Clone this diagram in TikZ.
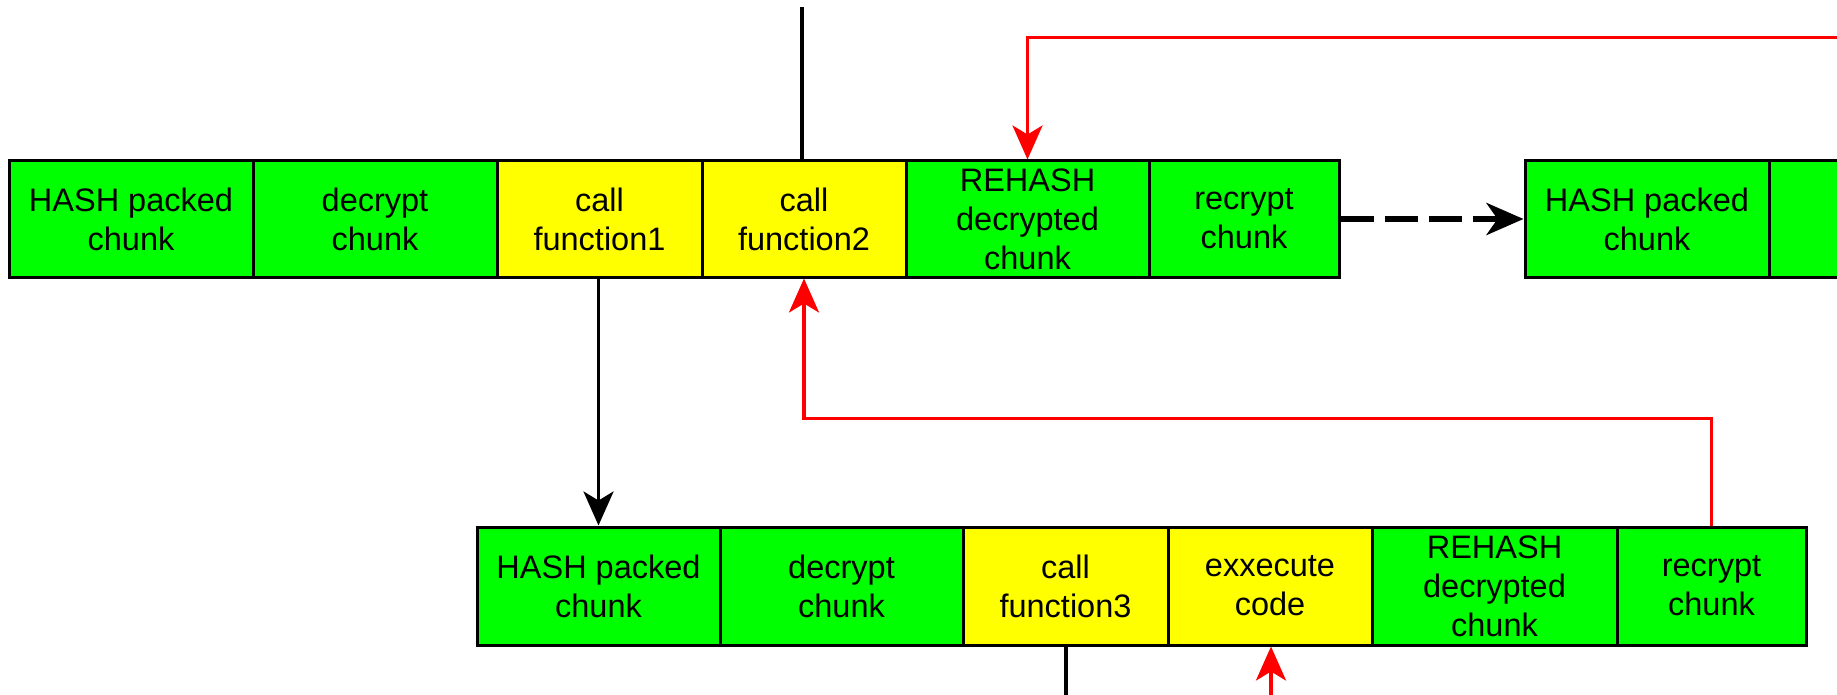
\documentclass[tikz,border=0pt]{standalone}
\usepackage{fontspec}
\setmainfont{Liberation Sans}
\usetikzlibrary{arrows.meta}
\definecolor{cgreen}{RGB}{0,255,0}
\definecolor{cyellow}{RGB}{255,255,0}
\definecolor{cred}{RGB}{255,0,0}
\tikzset{
  cell/.style={draw=black, line width=3pt, rectangle, inner sep=0pt, align=center,
    font=\fontsize{32.5}{39}\selectfont},
  gcell/.style={cell, fill=cgreen},
  ycell/.style={cell, fill=cyellow},
  topcell/.style={minimum height=116pt},
  botcell/.style={minimum height=118pt},
  blkline/.style={draw=black, line width=3.5pt},
  redline/.style={draw=cred, line width=3.5pt},
  tip/.style={-{Stealth[length=34pt, width=30pt, inset=9pt]}},
  dasharrow/.style={draw=black, line width=6pt, dash pattern=on 33pt off 11pt,
    -{Stealth[length=37pt, width=32pt, inset=11pt]}}
}
\begin{document}
\begin{tikzpicture}[x=1pt, y=-1pt]
\clip (0,0) rectangle (1837,695);
\fill[white] (0,0) rectangle (1837,695);
% top row
\node[gcell, topcell, minimum width=244pt] (a1) at (131,219) {HASH packed\\chunk};
\node[gcell, topcell, minimum width=244pt] (a2) at (375,219) {decrypt\\chunk};
\node[ycell, topcell, minimum width=205pt] (a3) at (599.5,219) {call\\function1};
\node[ycell, topcell, minimum width=204pt] (a4) at (804,219) {call\\function2};
\node[gcell, topcell, minimum width=243pt] (a5) at (1027.5,219) {REHASH\\decrypted\\chunk};
\node[gcell, topcell, minimum width=190pt] (a6) at (1244,219) {recrypt\\chunk};
\node[gcell, topcell, minimum width=244pt] (c1) at (1647,219) {HASH packed\\chunk};
\node[gcell, topcell, minimum width=244pt] (c2) at (1891,219) {};
% bottom row
\node[gcell, botcell, minimum width=243pt] (b1) at (598.5,586) {HASH packed\\chunk};
\node[gcell, botcell, minimum width=243pt] (b2) at (841.5,586) {decrypt\\chunk};
\node[ycell, botcell, minimum width=205pt] (b3) at (1065.5,586) {call\\function3};
\node[ycell, botcell, minimum width=204pt] (b4) at (1270,586) {exxecute\\code};
\node[gcell, botcell, minimum width=245pt] (b5) at (1494.5,586) {REHASH\\decrypted\\chunk};
\node[gcell, botcell, minimum width=189pt] (b6) at (1711.5,586) {recrypt\\chunk};
% free ends
\coordinate (t0) at (802,7);
\coordinate (r0) at (1840,37.5);
\coordinate (e0) at (1066,698);
\coordinate (e1) at (1271,698);
% connectors
\draw[blkline] (t0) -- (t0 |- a4.north);
\draw[redline, tip] (r0) -| (a5.north);
\draw[blkline, tip] (a3.south -| b1.north) -- (b1.north);
\draw[redline, tip] (b6.north) -- ++(0,-107) -| (a4.south);
\draw[blkline] (b3.south -| e0) -- (e0);
\draw[redline, tip] (e1) -- (e1 |- b4.south);
\draw[dasharrow] (a6.east) -- (c1.west);
\end{tikzpicture}
\end{document}
